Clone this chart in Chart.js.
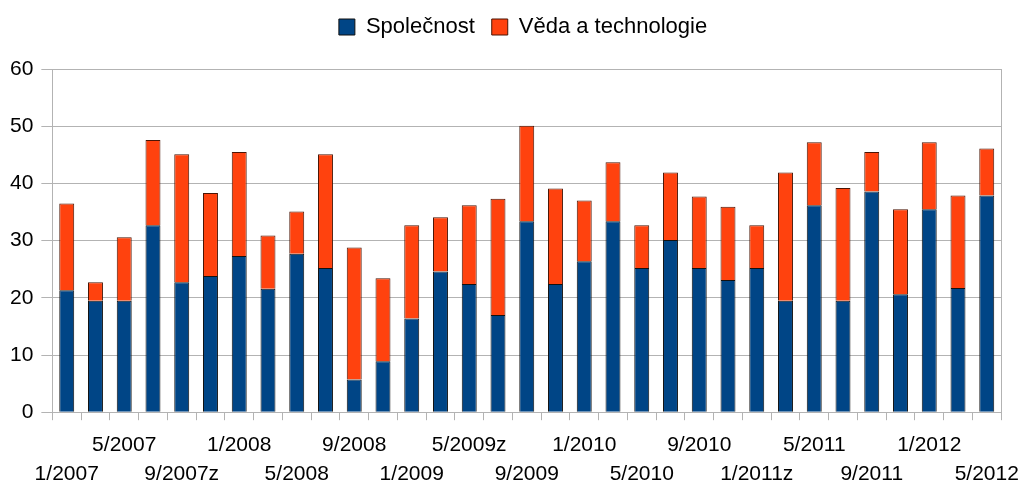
<!DOCTYPE html>
<html>
<head>
<meta charset="utf-8">
<script src="https://cdn.jsdelivr.net/npm/chart.js@4.4.1/dist/chart.umd.min.js"></script>
<style>
html,body{margin:0;padding:0;background:#fff;}
#wrap{width:1024px;height:482px;position:relative;}
</style>
</head>
<body>
<div id="wrap"><canvas id="c" width="1024" height="482"></canvas></div>
<script>
const categories = [
  "1/2007","3/2007","5/2007","7/2007","9/2007z","11/2007",
  "1/2008","3/2008","5/2008","7/2008","9/2008","11/2008",
  "1/2009","3/2009","5/2009z","7/2009","9/2009","11/2009",
  "1/2010","3/2010","5/2010","7/2010","9/2010","11/2010",
  "1/2011z","3/2011","5/2011","7/2011","9/2011","11/2011",
  "1/2012","3/2012","5/2012"
];
const spolecnost = [21.3,19.5,19.5,32.7,22.7,23.8,27.3,21.6,27.7,25.2,5.7,8.9,16.4,24.6,22.4,17.0,33.4,22.4,26.4,33.4,25.2,30.1,25.2,23.1,25.2,19.5,36.2,19.5,38.6,20.6,35.5,21.7,37.9];
const vedaTechnologie = [15.2,3.2,11.1,14.9,22.4,14.5,18.2,9.3,7.4,19.9,23.1,14.5,16.3,9.5,13.8,20.3,16.7,16.7,10.6,10.3,7.5,11.8,12.5,12.8,7.5,22.4,11.0,19.7,6.9,14.9,11.7,16.2,8.2];
const yTicks = [0,10,20,30,40,50,60];

const FONT = "'Liberation Sans', Arial, sans-serif";
Chart.defaults.font.family = FONT;
Chart.defaults.color = '#000';

const legendMargin = {
  id: 'legendMargin',
  beforeInit(chart) {
    const origFit = chart.legend.fit;
    chart.legend.fit = function() {
      origFit.call(this);
      this.height += 21;
    };
  },
  afterLayout(chart) {
    chart.legend.left += 12;
    chart.legend.right += 12;
  }
};

new Chart(document.getElementById('c'), {
  type: 'bar',
  data: {
    labels: categories,
    datasets: [
      {label: 'Společnost', data: spolecnost, backgroundColor: '#004586', borderColor: '#111', borderWidth: 1, barPercentage: 0.52, categoryPercentage: 1},
      {label: 'Věda a technologie', data: vedaTechnologie, backgroundColor: '#ff420e', borderColor: '#4a1505', borderWidth: 1, barPercentage: 0.52, categoryPercentage: 1}
    ]
  },
  plugins: [legendMargin],
  options: {
    responsive: false,
    animation: false,
    layout: {padding: {left: 2, right: 4, top: -1, bottom: -17}},
    plugins: {
      legend: {
        position: 'top',
        labels: {font: {size: 22}, boxWidth: 16, boxHeight: 16, padding: 17, color: '#000'}
      },
      tooltip: {enabled: false}
    },
    scales: {
      x: {
        stacked: true,
        afterFit: (s) => { s.paddingRight = Math.max(0, s.paddingRight - 5); },
        grid: {offset: true, drawOnChartArea: false, drawTicks: true, tickLength: 8, color: '#b3b3b3'},
        border: {color: '#b3b3b3'},
        ticks: {
          autoSkip: false, maxRotation: 0, minRotation: 0, padding: 10,
          font: {size: 21, lineHeight: 1.4},
          callback: function(v, i) {
            if (i % 2) return '';
            const lab = categories[i];
            return (i % 4 === 0) ? ['', lab] : [lab];
          }
        }
      },
      y: {
        stacked: true,
        min: 0, max: 60,
        afterBuildTicks: (s) => { s.ticks = yTicks.map(v => ({value: v})); },
        grid: {color: '#b3b3b3', tickLength: 11},
        border: {color: '#b3b3b3'},
        ticks: {font: {size: 21}, padding: 8}
      },
      y2: {
        position: 'right',
        min: 0, max: 60,
        grid: {drawOnChartArea: false, drawTicks: false},
        border: {color: '#b3b3b3'},
        ticks: {display: false}
      }
    }
  }
});
</script>
</body>
</html>
